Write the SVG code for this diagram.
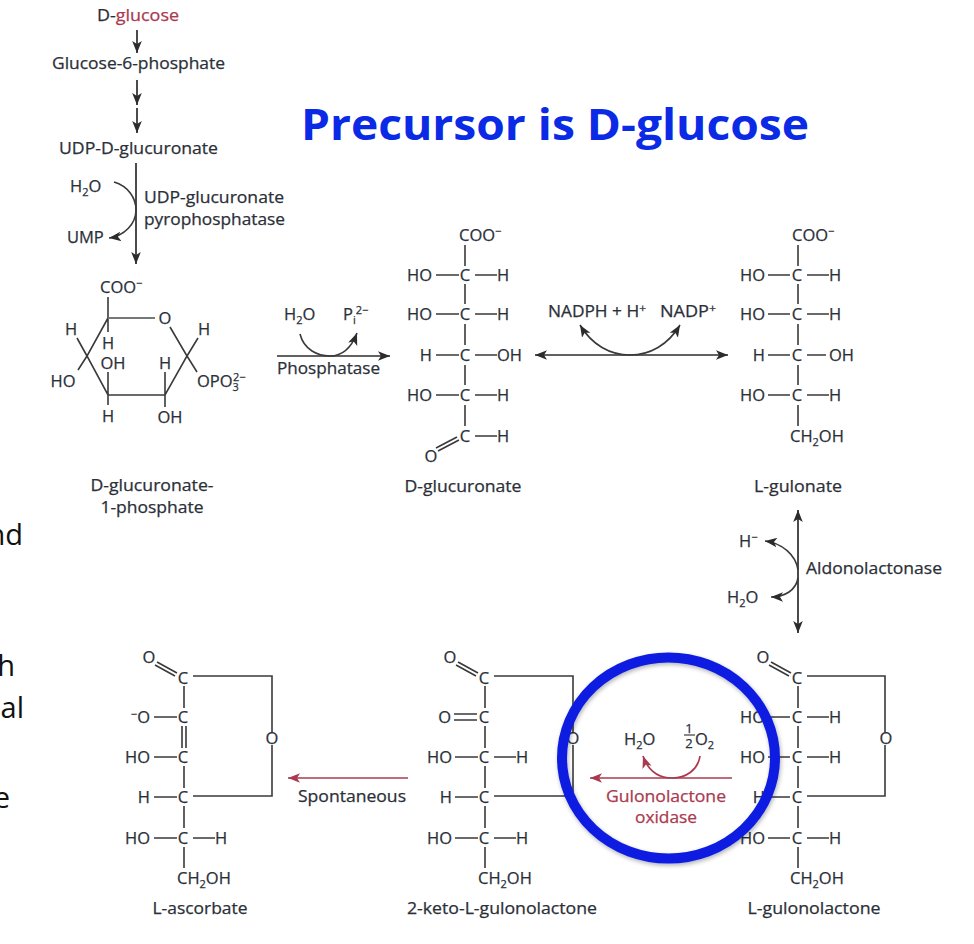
<svg xmlns="http://www.w3.org/2000/svg" width="974" height="944" viewBox="0 0 974 944">
<style>
text{font-family:"Open Sans","Noto Sans",sans-serif;font-size:16.5px;fill:#2b3038;stroke:#2b3038;stroke-width:.25}
.lb{font-size:16px}
.m{text-anchor:middle}
.e{text-anchor:end}
.s{font-size:11px}
.r{fill:#aa3a50;stroke:#aa3a50}
.b{stroke:#3a3a3a;stroke-width:1.6;fill:none}
.g{stroke:#777;stroke-width:2.2;fill:none}
.a{stroke:#2c2c2c;stroke-width:1.7;fill:none;marker-end:url(#ah)}
.d{stroke:#2c2c2c;stroke-width:1.7;fill:none;marker-end:url(#ah);marker-start:url(#ahs)}
.c{stroke:#3a3a3a;stroke-width:1.6;fill:none;marker-end:url(#ah)}
.ra{stroke:#aa3a50;stroke-width:1.7;fill:none;marker-end:url(#rh)}
.pt{font-size:29px;fill:#111;stroke:none}
.t{font-size:43px;font-weight:700;fill:#0a2ae6;stroke:none}
</style>
<defs>
<marker id="ah" markerUnits="userSpaceOnUse" markerWidth="14" markerHeight="12" refX="12" refY="6" orient="auto"><path d="M0,1.2 L12,6 L0,10.8 L3,6z" fill="#2c2c2c"/></marker>
<marker id="ahs" markerUnits="userSpaceOnUse" markerWidth="14" markerHeight="12" refX="0" refY="6" orient="auto"><path d="M12,1.2 L0,6 L12,10.8 L9,6z" fill="#2c2c2c"/></marker>
<marker id="rh" markerUnits="userSpaceOnUse" markerWidth="14" markerHeight="12" refX="12" refY="6" orient="auto"><path d="M0,1.2 L12,6 L0,10.8 L3,6z" fill="#aa3a50"/></marker>
<filter id="sh" x="-10%" y="-10%" width="120%" height="120%"><feDropShadow dx="1" dy="2" stdDeviation="2" flood-color="#000" flood-opacity="0.3"/></filter>
</defs>

<g id="connectors">
<path class="a" d="M137,30V53"/>
<path class="a" d="M137,80V105"/>
<path class="a" d="M137,108V133"/>
<path class="a" d="M136,163V264"/>
<path class="c" d="M114,182C128,186 136,198 136,210C136,224 124,236 109,238"/>
<path class="a" d="M277,356H390"/>
<path class="c" d="M300,334C304,350 318,356 330,356C343,356 352,346 357,333"/>
<path class="d" d="M535,355H728"/>
<path class="c" d="M630,355C610,355 592,345 580,325"/>
<path class="c" d="M630,355C650,355 668,345 680,325"/>
<path class="d" d="M798,510V633"/>
<path class="c" d="M798,570C796,555 782,543 765,541"/>
<path class="c" d="M798,578C796,590 785,597 771,597"/>
<path class="ra" d="M408,778H288"/>
<path class="ra" d="M732,778H590"/>
<path class="ra" d="M700,756C698,770 686,778 672,778C658,778 648,770 643,756"/>
</g>

<g id="title"><text class="t" x="301" y="140" textLength="508" lengthAdjust="spacingAndGlyphs">Precursor is D-glucose</text></g>

<g id="slide-text">
<text class="pt e" x="23" y="545">nd</text>
<text class="pt e" x="15" y="676">h</text>
<text class="pt e" x="24" y="718">al</text>
<text class="pt e" x="10" y="808">e</text>
</g>

<g id="d-glucose"><text class="lb" x="97" y="21" textLength="82" lengthAdjust="spacingAndGlyphs">D-<tspan class="r">glucose</tspan></text></g>
<g id="glucose-6-phosphate"><text class="lb" x="52" y="69" textLength="173" lengthAdjust="spacingAndGlyphs">Glucose-6-phosphate</text></g>
<g id="udp-d-glucuronate"><text class="lb" x="59" y="154" textLength="159" lengthAdjust="spacingAndGlyphs">UDP-D-glucuronate</text></g>
<g id="h2o-1"><text x="70" y="192">H<tspan class="s" dy="4">2</tspan><tspan dy="-4">O</tspan></text></g>
<g id="ump"><text x="67" y="243">UMP</text></g>
<g id="pyrophosphatase"><text class="lb" x="144" y="203" textLength="140" lengthAdjust="spacingAndGlyphs">UDP-glucuronate</text><text class="lb" x="144" y="225" textLength="141" lengthAdjust="spacingAndGlyphs">pyrophosphatase</text></g>

<g id="d-glucuronate-1-phosphate">
<text x="100" y="293">COO<tspan class="s" dy="-6">−</tspan></text>
<path class="b" d="M108,297V318M108,318L87,356L108,395H165L187,356L170,327M108,332V318M108,372V395M108,395V405M165,372V395M165,395V407M187,356L198,338M187,356L197,372M87,356L77,338M87,356L78,370"/>
<path class="g" d="M108,318H155"/>
<text class="m" x="165" y="324">O</text>
<text class="m" x="71" y="335">H</text>
<text class="m" x="108" y="349">H</text>
<text class="m" x="204" y="335">H</text>
<text class="m" x="113" y="369">OH</text>
<text class="m" x="165" y="369">H</text>
<text class="m" x="63" y="387">HO</text>
<text x="197" y="387">OPO<tspan class="s" dy="4">3</tspan><tspan class="s" dy="-10" dx="-6">2−</tspan></text>
<text class="m" x="108" y="422">H</text>
<text class="m" x="170" y="423">OH</text>
<text class="lb m" x="152" y="491" textLength="123" lengthAdjust="spacingAndGlyphs">D-glucuronate-</text>
<text class="lb m" x="152" y="513" textLength="103" lengthAdjust="spacingAndGlyphs">1-phosphate</text>
</g>

<g id="phosphatase">
<text x="284" y="320">H<tspan class="s" dy="4">2</tspan><tspan dy="-4">O</tspan></text>
<text x="343" y="320">P<tspan class="s" dy="4">i</tspan><tspan class="s" dy="-10">2−</tspan></text>
<text class="lb" x="277" y="374" textLength="103" lengthAdjust="spacingAndGlyphs">Phosphatase</text>
</g>

<g id="d-glucuronate">
<path class="b" d="M465,245V266M465,284V304M465,324V345M465,365V385M465,405V426M436,275H459M475,275H497M436,314H459M475,314H497M436,355H459M475,355H497M436,395H459M475,395H497M475,436H497M459,440L438,451M457,437L436,448"/>
<text x="459" y="241">COO<tspan class="s" dy="-6">−</tspan></text>
<text class="e" x="432" y="281">HO</text><text class="m" x="465" y="281">C</text><text x="497" y="281">H</text>
<text class="e" x="432" y="320">HO</text><text class="m" x="465" y="320">C</text><text x="497" y="320">H</text>
<text class="e" x="432" y="361">H</text><text class="m" x="465" y="361">C</text><text x="497" y="361">OH</text>
<text class="e" x="432" y="401">HO</text><text class="m" x="465" y="401">C</text><text x="497" y="401">H</text>
<text class="m" x="465" y="442">C</text><text x="497" y="442">H</text>
<text class="m" x="431" y="462">O</text>
<text class="lb m" x="463" y="492" textLength="117" lengthAdjust="spacingAndGlyphs">D-glucuronate</text>
</g>

<g id="nadph">
<text class="lb" x="548" y="317" textLength="98" lengthAdjust="spacingAndGlyphs">NADPH + H<tspan class="s" dy="-5">+</tspan></text>
<text class="lb" x="660" y="317" textLength="56" lengthAdjust="spacingAndGlyphs">NADP<tspan class="s" dy="-5">+</tspan></text>
</g>

<g id="l-gulonate">
<path class="b" d="M798,245V266M798,284V304M798,324V345M798,365V385M798,405V426M768,275H790M807,275H829M768,314H790M807,314H829M768,355H790M807,355H826M768,395H790M807,395H829"/>
<text x="792" y="241">COO<tspan class="s" dy="-6">−</tspan></text>
<text class="e" x="765" y="281">HO</text><text class="m" x="797" y="281">C</text><text x="829" y="281">H</text>
<text class="e" x="765" y="320">HO</text><text class="m" x="797" y="320">C</text><text x="829" y="320">H</text>
<text class="e" x="765" y="361">H</text><text class="m" x="797" y="361">C</text><text x="829" y="361">OH</text>
<text class="e" x="765" y="401">HO</text><text class="m" x="797" y="401">C</text><text x="829" y="401">H</text>
<text x="790" y="442">CH<tspan class="s" dy="4">2</tspan><tspan dy="-4">OH</tspan></text>
<text class="lb m" x="798" y="492" textLength="88" lengthAdjust="spacingAndGlyphs">L-gulonate</text>
</g>

<g id="aldonolactonase">
<text x="739" y="547">H<tspan class="s" dy="-6">−</tspan></text>
<text x="727" y="603">H<tspan class="s" dy="4">2</tspan><tspan dy="-4">O</tspan></text>
<text class="lb" x="806" y="574" textLength="136" lengthAdjust="spacingAndGlyphs">Aldonolactonase</text>
</g>

<g id="l-gulonolactone">
<path class="b" d="M798,686V708M798,726V748M798,766V788M798,806V828M798,847V868M807,676H885V732M885,745V796H807M768,717H790M807,717H829M768,757H790M807,757H829M768,797H790M768,838H790M807,838H829M791,673L771,662M789,676L769,665"/>
<text class="m" x="763" y="663">O</text>
<text class="m" x="797" y="684">C</text>
<text class="e" x="765" y="723">HO</text><text class="m" x="797" y="723">C</text><text x="829" y="723">H</text>
<text class="e" x="765" y="763">HO</text><text class="m" x="797" y="763">C</text><text x="829" y="763">H</text>
<text class="e" x="765" y="803">H</text><text class="m" x="797" y="803">C</text>
<text class="e" x="765" y="844">HO</text><text class="m" x="797" y="844">C</text><text x="829" y="844">H</text>
<text class="m" x="886" y="744">O</text>
<text x="790" y="884">CH<tspan class="s" dy="4">2</tspan><tspan dy="-4">OH</tspan></text>
<text class="lb m" x="814" y="914" textLength="133" lengthAdjust="spacingAndGlyphs">L-gulonolactone</text>
</g>

<g id="gulonolactone-oxidase">
<text x="624" y="745">H<tspan class="s" dy="4">2</tspan><tspan dy="-4">O</tspan></text>
<text class="s m" style="font-size:13px" x="689" y="733">1</text>
<path class="b" d="M684,735H695" style="stroke-width:1.2"/>
<text class="s m" style="font-size:13px" x="689" y="748">2</text>
<text x="695" y="745">O<tspan class="s" dy="4">2</tspan></text>
<text class="lb m r" x="666" y="802" textLength="120" lengthAdjust="spacingAndGlyphs">Gulonolactone</text>
<text class="lb m r" x="666" y="823" textLength="62" lengthAdjust="spacingAndGlyphs">oxidase</text>
</g>

<g id="keto-gulonolactone">
<path class="b" d="M485,686V708M485,726V748M485,766V788M485,806V828M485,847V868M494,676H573V732M573,745V796H494M455,757H478M494,757H516M455,797H478M455,838H478M494,838H516M478,673L458,662M476,676L456,665M454,714H477M454,720H477"/>
<text class="m" x="450" y="663">O</text>
<text class="m" x="484" y="684">C</text>
<text class="e" x="451" y="723">O</text><text class="m" x="484" y="723">C</text>
<text class="e" x="452" y="763">HO</text><text class="m" x="484" y="763">C</text><text x="516" y="763">H</text>
<text class="e" x="452" y="803">H</text><text class="m" x="484" y="803">C</text>
<text class="e" x="452" y="844">HO</text><text class="m" x="484" y="844">C</text><text x="516" y="844">H</text>
<text class="m" x="573" y="744">O</text>
<text x="478" y="884">CH<tspan class="s" dy="4">2</tspan><tspan dy="-4">OH</tspan></text>
<text class="lb m" x="502" y="914" textLength="190" lengthAdjust="spacingAndGlyphs">2-keto-L-gulonolactone</text>
</g>

<g id="spontaneous"><text class="lb" x="298" y="802" textLength="108" lengthAdjust="spacingAndGlyphs">Spontaneous</text></g>

<g id="l-ascorbate">
<path class="b" d="M184,686V708M182,726V748M186,726V748M184,766V788M184,806V828M184,847V868M193,676H272V732M272,745V796H193M154,717H177M154,757H177M154,797H177M154,838H177M193,838H215M177,673L157,662M175,676L155,665"/>
<text class="m" x="149" y="663">O</text>
<text class="m" x="183" y="684">C</text>
<text class="e" x="150" y="723"><tspan class="s" dy="-5">−</tspan><tspan dy="5">O</tspan></text><text class="m" x="183" y="723">C</text>
<text class="e" x="150" y="763">HO</text><text class="m" x="183" y="763">C</text>
<text class="e" x="150" y="803">H</text><text class="m" x="183" y="803">C</text>
<text class="e" x="150" y="844">HO</text><text class="m" x="183" y="844">C</text><text x="215" y="844">H</text>
<text class="m" x="272" y="744">O</text>
<text x="177" y="884">CH<tspan class="s" dy="4">2</tspan><tspan dy="-4">OH</tspan></text>
<text class="lb m" x="200" y="914" textLength="95" lengthAdjust="spacingAndGlyphs">L-ascorbate</text>
</g>

<g id="highlight"><ellipse cx="668.5" cy="758" rx="106.5" ry="100.5" fill="none" stroke="#0a1ee0" stroke-width="10" filter="url(#sh)"/></g>
</svg>
